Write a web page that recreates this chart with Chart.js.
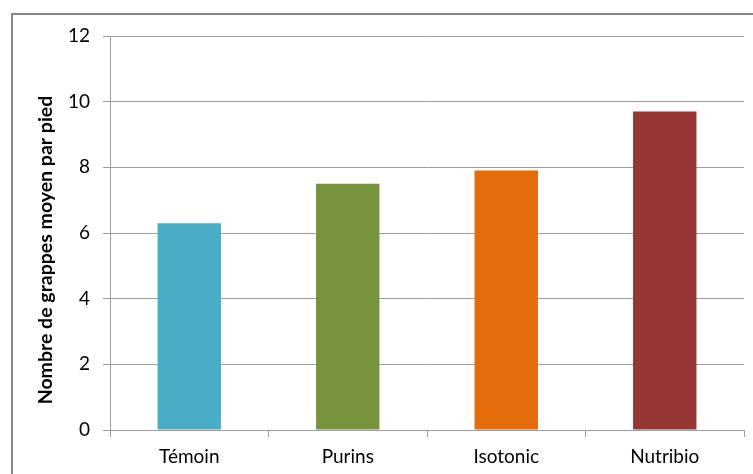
<!DOCTYPE html>
<html>
<head>
<meta charset="utf-8">
<script src="https://cdn.jsdelivr.net/npm/chart.js@4"></script>
<style>
  html, body { margin: 0; padding: 0; background: #fff; }
  #wrap { width: 753px; height: 474px; }
</style>
</head>
<body>
<div id="wrap"><canvas id="grappes" width="753" height="474"></canvas></div>
<script>
// données
const modalites = ['Témoin', 'Purins', 'Isotonic', 'Nutribio'];
const grappes = [6.3, 7.5, 7.9, 9.7];
const couleurs = ['#4BACC6', '#77933C', '#E46C0A', '#953735'];
const titreY = 'Nombre de grappes moyen par pied';
const gris = '#9d9d9d';

// cadre gris + titre de l'axe Y
const cadre = {
  id: 'cadre',
  beforeDraw(chart) {
    const c = chart.ctx;
    c.save();
    c.strokeStyle = '#868686';
    c.lineWidth = 2;
    c.strokeRect(12, 14, 800, 500);
    c.restore();
  },
  afterDraw(chart) {
    const c = chart.ctx;
    c.save();
    c.translate(46, 250);
    c.rotate(-Math.PI / 2);
    c.font = 'bold 19.5px Lato';
    c.fillStyle = '#000';
    c.textAlign = 'center';
    c.textBaseline = 'middle';
    c.fillText(titreY, 0, 0);
    c.restore();
  }
};

const ctx = document.getElementById('grappes').getContext('2d');
new Chart(ctx, {
  type: 'bar',
  data: {
    labels: modalites,
    datasets: [{
      data: grappes,
      backgroundColor: couleurs,
      categoryPercentage: 1,
      barPercentage: 0.4
    }]
  },
  options: {
    responsive: false,
    animation: false,
    layout: { padding: { top: 36, right: 9, left: 0, bottom: 0 } },
    plugins: { legend: { display: false }, tooltip: { enabled: false } },
    scales: {
      y: {
        min: 0, max: 12,
        ticks: { stepSize: 2, color: '#000', padding: 13, font: { family: 'Lato', size: 19 } },
        grid: { color: gris, tickLength: 7 },
        border: { color: gris },
        afterFit(scale) { scale.width = 110; }
      },
      x: {
        ticks: { color: '#000', padding: 8, font: { family: 'Lato', size: 19 } },
        grid: { drawOnChartArea: false, color: gris, tickLength: 7 },
        border: { color: gris },
        afterFit(scale) { scale.height = 44; }
      }
    }
  },
  plugins: [cadre]
});
</script>
</body>
</html>
